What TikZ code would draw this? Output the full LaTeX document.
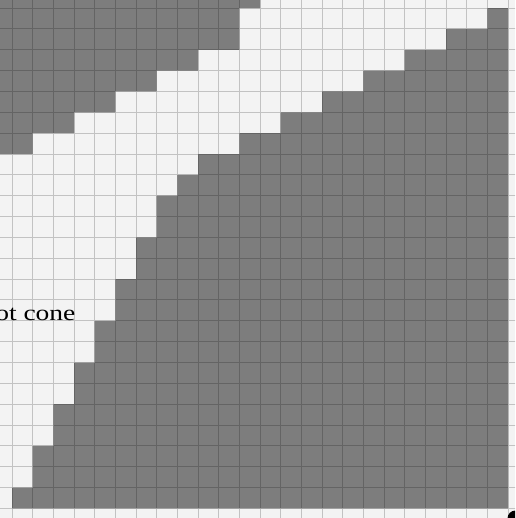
\documentclass[tikz,border=0pt]{standalone}
\usepackage{fontspec}
\setmainfont{Liberation Serif}
\begin{document}
\begin{tikzpicture}[x=1pt,y=1pt]
\definecolor{lightcell}{HTML}{F3F3F3}
\definecolor{darkcell}{HTML}{7D7D7D}
\tikzset{
  darkregion/.style={fill=darkcell,draw=none},
  gridline/.style={draw=black,opacity=0.2,line width=1pt},
  labeltext/.style={font=\fontsize{22}{24}\selectfont, inner sep=0pt, anchor=base west, text=black, xscale=1.25}
}
\useasboundingbox (0,0) rectangle (515,518);
\clip (0,0) rectangle (515,518);
\fill[lightcell] (0,0) rectangle (515,518);
\begin{scope}[shift={(12,9.5)}, x=20.67pt, y=20.85pt]
  % upper-left dark region
  \fill[darkregion] (-1,26) -- (-1,17) -- (1,17) -- (1,18) -- (3,18) -- (3,19) -- (5,19) -- (5,20)
    -- (7,20) -- (7,21) -- (9,21) -- (9,22) -- (11,22) -- (11,24) -- (12,24) -- (12,26) -- cycle;
  % lower-right dark region
  \fill[darkregion] (0,0) -- (0,1) -- (1,1) -- (1,3) -- (2,3) -- (2,5) -- (3,5) -- (3,7) -- (4,7)
    -- (4,9) -- (5,9) -- (5,11) -- (6,11) -- (6,13) -- (7,13) -- (7,15) -- (8,15) -- (8,16) -- (9,16)
    -- (9,17) -- (11,17) -- (11,18) -- (13,18) -- (13,19) -- (15,19) -- (15,20) -- (17,20) -- (17,21)
    -- (19,21) -- (19,22) -- (21,22) -- (21,23) -- (23,23) -- (23,24) -- (24,24) -- (24,0) -- cycle;
  % grid
  \draw[gridline] (-1,-1) grid[step=1] (25,26);
\end{scope}
\node[labeltext] (lbl) at (-5,197) {ot cone};
\fill[black] (515.5,-0.5) circle (8);
\end{tikzpicture}
\end{document}
